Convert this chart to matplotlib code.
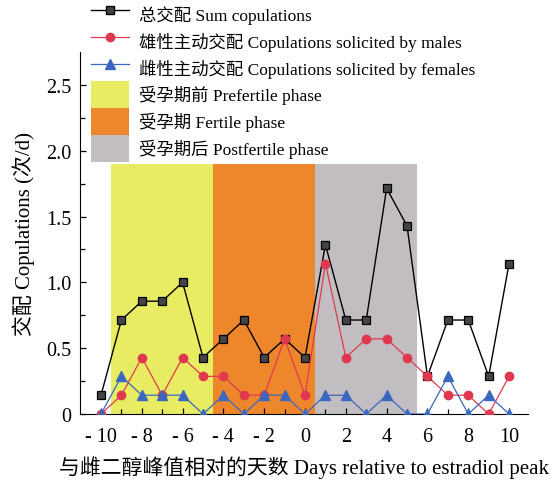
import numpy as np
import matplotlib
matplotlib.use("Agg")
import matplotlib.pyplot as plt
from matplotlib.lines import Line2D
from matplotlib.patches import Patch

plt.rcParams['font.family'] = ['Liberation Serif', 'Noto Sans CJK SC']
plt.rcParams['axes.unicode_minus'] = False

# days relative to estradiol peak
days = list(range(-10, 11))
# copulations per day (multiples of 1/7)
sum_cop = [0.143, 0.714, 0.857, 0.857, 1.0, 0.429, 0.571, 0.714, 0.429, 0.571, 0.429,
           1.286, 0.714, 0.714, 1.714, 1.429, 0.286, 0.714, 0.714, 0.286, 1.143]
male_cop = [0.0, 0.143, 0.429, 0.143, 0.429, 0.286, 0.286, 0.143, 0.143, 0.571, 0.143,
            1.143, 0.429, 0.571, 0.571, 0.429, 0.286, 0.143, 0.143, 0.0, 0.286]
female_cop = [0.0, 0.286, 0.143, 0.143, 0.143, 0.0, 0.143, 0.0, 0.143, 0.143, 0.0,
              0.143, 0.143, 0.0, 0.143, 0.0, 0.0, 0.286, 0.0, 0.143, 0.0]

# phases: (start, end, label)
phase_bounds = [(-9.5, -4.5), (-4.5, 0.5), (0.5, 5.5)]
phase_top = 1.9
phase_labels = ['受孕期前 Prefertile phase', '受孕期 Fertile phase', '受孕期后 Postfertile phase']
phase_colors = ['#e8ec62', '#ee872c', '#c1bdc0']

line_labels = ['总交配 Sum copulations',
               '雄性主动交配 Copulations solicited by males',
               '雌性主动交配 Copulations solicited by females']

xtick_vals = list(range(-10, 11, 2))
xtick_labels = ['- 10', '- 8', '- 6', '- 4', '- 2', '0', '2', '4', '6', '8', '10']
ytick_vals = [0, 0.5, 1.0, 1.5, 2.0, 2.5]
ytick_labels = ['0', '0.5', '1.0', '1.5', '2.0', '2.5']

fig = plt.figure(figsize=(5.57, 4.85), dpi=100)
ax = fig.add_axes([0.1436, 0.1443, 0.8044, 0.7464])

for (x0, x1), c in zip(phase_bounds, phase_colors):
    ax.fill_between([x0, x1], 0, phase_top, color=c, linewidth=0, zorder=0)

ax.plot(days, sum_cop, color='black', lw=1.0, marker='s', ms=5.5,
        mfc='#444444', mec='black', mew=0.9, zorder=3)
ax.plot(days, male_cop, color='#e0394f', lw=0.9, marker='o', ms=6,
        mfc='#e0394f', mec='#e0394f', zorder=4)
ax.plot(days, female_cop, color='#3a68c0', lw=0.9, marker='^', ms=6.5,
        mfc='#3a68c0', mec='#3a68c0', zorder=5)

ax.set_xlim(-11.03, 10.93)
ax.set_ylim(0, 2.75)
ax.spines['top'].set_visible(False)
ax.spines['right'].set_visible(False)
ax.spines['left'].set_bounds(0, 2.75)

ax.set_xticks(xtick_vals)
ax.set_xticklabels(xtick_labels)
ax.set_xticks(days, minor=True)
ax.set_yticks(ytick_vals)
ax.set_yticklabels(ytick_labels)
ax.set_yticks(np.arange(0.25, 2.75, 0.5), minor=True)
ax.tick_params(which='both', direction='in', labelsize=14.5, width=0.9)
ax.tick_params(which='major', length=4)
ax.tick_params(which='minor', length=3.5)
ax.tick_params(axis='x', pad=9)
ax.tick_params(axis='y', pad=6)

ax.set_xlabel('与雌二醇峰值相对的天数 Days relative to estradiol peak', fontsize=15, labelpad=7)
ax.set_ylabel('交配 Copulations (次/d)', fontsize=15, labelpad=8)

handles = [
    Line2D([], [], color='black', lw=1.0, marker='s', ms=5.5, mfc='#444444', mec='black'),
    Line2D([], [], color='#e0394f', lw=0.9, marker='o', ms=6, mfc='#e0394f', mec='#e0394f'),
    Line2D([], [], color='#3a68c0', lw=0.9, marker='^', ms=6.5, mfc='#3a68c0', mec='#3a68c0'),
]
handles += [Patch(facecolor=c, edgecolor='none') for c in phase_colors]
fig.legend(handles, line_labels + phase_labels, loc='upper left',
           bbox_to_anchor=(91 / 557, 1 - 2 / 485), frameon=False, fontsize=12.5,
           borderpad=0, borderaxespad=0, labelspacing=0, handleheight=2.0,
           handlelength=2.2, handletextpad=0.55)

fig.savefig('out.png', dpi=100)
